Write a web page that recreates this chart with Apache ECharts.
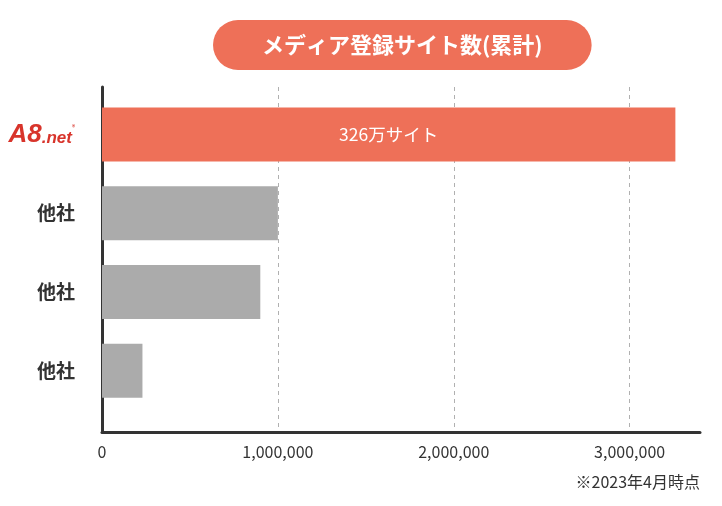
<!DOCTYPE html>
<html>
<head>
<meta charset="utf-8">
<script src="https://cdn.jsdelivr.net/npm/echarts@6/dist/echarts.min.js"></script>
<style>
html,body{margin:0;padding:0;background:#fff;}
#c{width:722px;height:506px;}
</style>
</head>
<body>
<div id="c"></div>
<script>
const categories = ['A8.net', '他社', '他社', '他社'];
const values = [3260000, 1000000, 900000, 230000];
const barLabels = ['326万サイト', '', '', ''];
const xTicks = [0, 1000000, 2000000, 3000000];
const titleText = 'メディア登録サイト数(累計)';
const noteText = '※2023年4月時点';

const FONT = '"Noto Sans CJK JP", "Noto Sans", sans-serif';
const AXIS_MAX = 3400000;
const chart = echarts.init(document.getElementById('c'));

const barData = values.map((v, i) => ({
  value: v,
  itemStyle: { color: i === 0 ? '#EE7058' : '#ABABAB' }
}));

chart.setOption({
  animation: false,
  title: [
    {
      text: titleText,
      left: 213, top: 20,
      backgroundColor: '#EE7058',
      borderRadius: 25,
      padding: [14, 49],
      textStyle: { color: '#fff', fontSize: 22, fontWeight: 'bold', fontFamily: FONT, lineHeight: 22 }
    },
    {
      text: noteText,
      right: 22, top: 474,
      padding: 0,
      textStyle: { color: '#333', fontSize: 16, fontWeight: 'normal', fontFamily: FONT }
    }
  ],
  grid: [
    { left: 102, right: 22, top: 95, height: 315, containLabel: false },
    { left: 102, right: 22, top: 87, bottom: 74, containLabel: false }
  ],
  xAxis: [
    { type: 'value', gridIndex: 0, min: 0, max: AXIS_MAX, show: false },
    {
      type: 'value', gridIndex: 1, min: 0, max: AXIS_MAX, interval: 1000000,
      axisLine: { show: true, lineStyle: { color: '#333', width: 3 } },
      axisTick: { show: false },
      splitLine: { show: true, showMinLine: false, showMaxLine: false, lineStyle: { color: '#b0b0b0', type: [4, 4], width: 1 } },
      axisLabel: {
        showMaxLabel: false, margin: 12, color: '#333', fontSize: 16, fontFamily: FONT,
        formatter: v => xTicks.includes(v) ? v.toLocaleString('en-US') : ''
      }
    }
  ],
  yAxis: [
    {
      type: 'category', gridIndex: 0, inverse: true, data: categories,
      axisLine: { show: false }, axisTick: { show: false }, splitLine: { show: false },
      axisLabel: {
        margin: 27, color: '#333', fontSize: 19, fontWeight: 'bold', fontFamily: FONT,
        formatter: v => v === 'A8.net' ? '{a|A8}{b|.net}{c|®}' : v,
        rich: {
          a: { color: '#D8342B', fontSize: 26, fontStyle: 'italic', fontWeight: 'bold', fontFamily: 'Liberation Sans, Arial' },
          b: { color: '#D8342B', fontSize: 17, fontStyle: 'italic', fontWeight: 'bold', fontFamily: 'Liberation Sans, Arial', padding: [8, 0, 0, 0] },
          c: { color: '#D8342B', fontSize: 6, padding: [0, 0, 14, 0] }
        }
      }
    },
    {
      type: 'value', gridIndex: 1, min: 0, max: 1,
      axisLine: { show: true, lineStyle: { color: '#333', width: 3 } },
      axisTick: { show: false }, axisLabel: { show: false }, splitLine: { show: false }
    }
  ],
  series: [
    {
      type: 'bar', xAxisIndex: 0, yAxisIndex: 0,
      data: barData, barWidth: 54, z: 3,
      label: {
        show: true, position: 'inside', color: '#fff', fontSize: 17.5, fontFamily: FONT,
        formatter: p => barLabels[p.dataIndex]
      }
    }
  ]
});
</script>
</body>
</html>
